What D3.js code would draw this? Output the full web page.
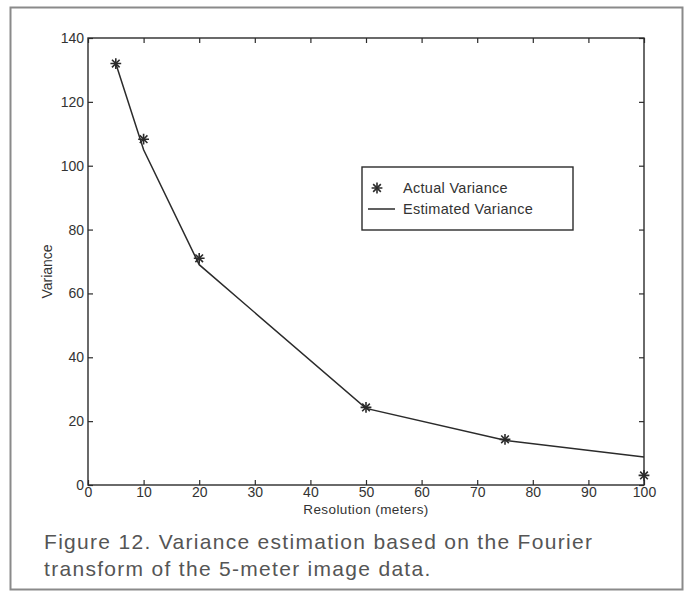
<!DOCTYPE html>
<html>
<head>
<meta charset="utf-8">
<script src="https://cdn.jsdelivr.net/npm/d3@7"></script>
<style>
    body { margin: 0; background: #fff; }
    svg { display: block; }
    .axis text { font-family: "Liberation Sans", Arial, sans-serif; font-size: 14px; fill: #333; }
</style>
</head>
<body>
<svg id="chart"></svg>
<script>
// resolution (meters)
let resolutions = [5, 10, 20, 50, 75, 100];
// measured variance at each resolution
let actualVariance = [132, 108.3, 71, 24.3, 14.3, 3];
// variance predicted from the Fourier transform
let estimatedVariance = [132, 105, 69, 24, 14, 8.8];
let xTicks = [0, 10, 20, 30, 40, 50, 60, 70, 80, 90, 100];
let yTicks = [0, 20, 40, 60, 80, 100, 120, 140];
let legendLabels = ["Actual Variance", "Estimated Variance"];
let captionLines = [
    "Figure 12. Variance estimation based on the Fourier",
    "transform of the 5-meter image data."
];

let width = 687;
let height = 602;
let ink = "#2b2b2b";

let svg = d3.select("#chart")
    .attr("width", width)
    .attr("height", height);

// outer frame of the figure
svg.append("rect")
    .attr("x", 10.5)
    .attr("y", 7.5)
    .attr("width", 672)
    .attr("height", 582)
    .attr("fill", "none")
    .attr("stroke", "#8a8a8a")
    .attr("stroke-width", 2);

let plot = { left: 88, right: 644, top: 38, bottom: 485 };

let x = d3.scaleLinear().domain([0, 100]).range([plot.left, plot.right]);
let y = d3.scaleLinear().domain([0, 140]).range([plot.bottom, plot.top]);

// AXES (ticks point inward, box on all sides)
svg.append("g")
    .attr("class", "axis")
    .attr("transform", `translate(0,${plot.bottom})`)
    .call(d3.axisBottom(x).tickValues(xTicks).tickSizeInner(-5).tickSizeOuter(0).tickPadding(2))
    .call(g => g.select(".domain").remove());

svg.append("g")
    .attr("class", "axis")
    .attr("transform", `translate(${plot.left},0)`)
    .call(d3.axisLeft(y).tickValues(yTicks).tickSizeInner(-5).tickSizeOuter(0).tickPadding(4))
    .call(g => g.select(".domain").remove());

svg.append("g")
    .attr("transform", `translate(0,${plot.top})`)
    .call(d3.axisTop(x).tickValues(xTicks).tickSizeInner(-5).tickSizeOuter(0).tickFormat(""))
    .call(g => g.select(".domain").remove());

svg.append("g")
    .attr("transform", `translate(${plot.right},0)`)
    .call(d3.axisRight(y).tickValues(yTicks).tickSizeInner(-5).tickSizeOuter(0).tickFormat(""))
    .call(g => g.select(".domain").remove());

svg.selectAll(".tick line").attr("stroke", ink).attr("stroke-width", 1.2);

svg.append("rect")
    .attr("x", plot.left)
    .attr("y", plot.top)
    .attr("width", plot.right - plot.left)
    .attr("height", plot.bottom - plot.top)
    .attr("fill", "none")
    .attr("stroke", ink)
    .attr("stroke-width", 1.4);

// AXIS TITLES
svg.append("text")
    .attr("x", (plot.left + plot.right) / 2)
    .attr("y", 514)
    .attr("text-anchor", "middle")
    .style("font-family", "Liberation Sans, Arial, sans-serif")
    .style("font-size", "13.5px")
    .style("letter-spacing", "0.4px")
    .style("fill", "#333")
    .text("Resolution (meters)");

svg.append("text")
    .attr("transform", `translate(52,${(plot.top + plot.bottom) / 2 + 10}) rotate(-90)`)
    .attr("text-anchor", "middle")
    .style("font-family", "Liberation Sans, Arial, sans-serif")
    .style("font-size", "14px")
    .style("fill", "#333")
    .text("Variance");

// ESTIMATED LINE
let line = d3.line()
    .x((d, i) => x(resolutions[i]))
    .y(d => y(d));

svg.append("path")
    .datum(estimatedVariance)
    .attr("d", line)
    .attr("fill", "none")
    .attr("stroke", ink)
    .attr("stroke-width", 1.5);

// ACTUAL MARKERS (star = plus + times)
let plusSym = d3.symbol().type(d3.symbolPlus).size(40);
let timesSym = d3.symbol().type(d3.symbolTimes).size(40);

function drawStar(sel) {
    sel.append("path").attr("d", plusSym()).attr("fill", "none").attr("stroke", ink).attr("stroke-width", 1.6);
    sel.append("path").attr("d", timesSym()).attr("fill", "none").attr("stroke", ink).attr("stroke-width", 1.6);
}

svg.selectAll(".marker")
    .data(actualVariance)
    .enter()
    .append("g")
    .attr("class", "marker")
    .attr("transform", (d, i) => `translate(${x(resolutions[i])},${y(d)})`)
    .call(drawStar);

// LEGEND
let legend = svg.append("g").attr("transform", "translate(362,167)");

legend.append("rect")
    .attr("width", 211)
    .attr("height", 63)
    .attr("fill", "white")
    .attr("stroke", ink)
    .attr("stroke-width", 1.4);

legend.append("g")
    .attr("transform", "translate(15,21)")
    .call(drawStar);

legend.append("line")
    .attr("x1", 6)
    .attr("x2", 33)
    .attr("y1", 42)
    .attr("y2", 42)
    .attr("stroke", ink)
    .attr("stroke-width", 1.5);

legend.selectAll(".legend-label")
    .data(legendLabels)
    .enter()
    .append("text")
    .attr("class", "legend-label")
    .attr("x", 41)
    .attr("y", (d, i) => 26 + i * 21)
    .style("font-family", "Liberation Sans, Arial, sans-serif")
    .style("font-size", "14.5px")
    .style("letter-spacing", "0.3px")
    .style("fill", "#333")
    .text(d => d);

// CAPTION
svg.selectAll(".caption")
    .data(captionLines)
    .enter()
    .append("text")
    .attr("class", "caption")
    .attr("x", 44)
    .attr("y", (d, i) => 549 + i * 27)
    .style("font-family", "Liberation Sans, Arial, sans-serif")
    .style("font-size", "21px")
    .style("letter-spacing", "1.3px")
    .style("fill", "#555")
    .text(d => d);
</script>
</body>
</html>
